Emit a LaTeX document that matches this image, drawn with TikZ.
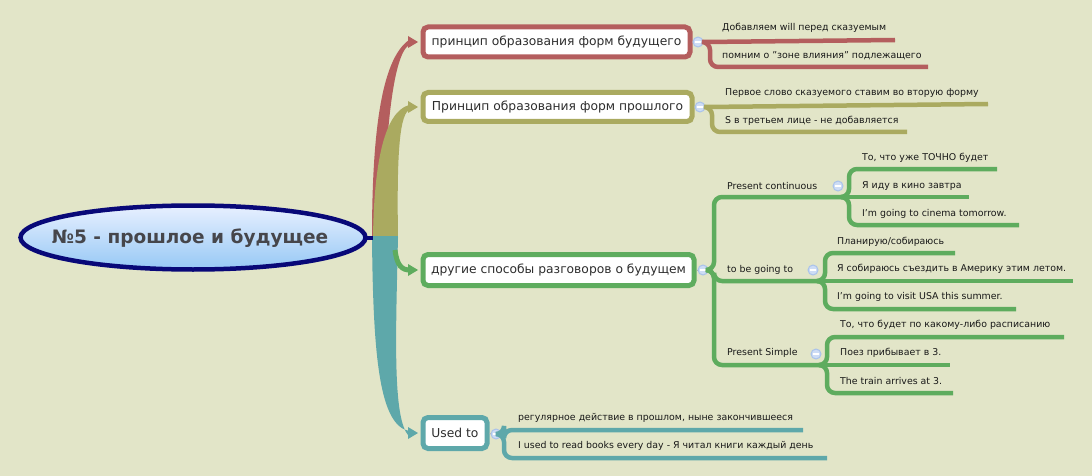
\documentclass[tikz,border=0pt]{standalone}
\usepackage{fontspec}
\setmainfont{DejaVu Sans}
\usetikzlibrary{shapes.geometric,calc}
\definecolor{bg}{RGB}{226,229,200}
\definecolor{cred}{RGB}{180,94,94}
\definecolor{colive}{RGB}{170,170,96}
\definecolor{cgreen}{RGB}{94,172,94}
\definecolor{cteal}{RGB}{94,168,170}
\definecolor{navy}{RGB}{8,8,120}
\definecolor{btnfill}{RGB}{205,220,245}
\definecolor{btnrim}{RGB}{170,195,235}
\definecolor{boxtext}{RGB}{45,45,45}
\definecolor{leaftext}{RGB}{25,25,25}
\definecolor{roottext}{RGB}{70,70,75}
\definecolor{elltop}{RGB}{232,240,255}
\definecolor{ellbot}{RGB}{150,200,245}
\tikzset{
  mainbox/.style={rectangle, rounded corners=5, draw=#1, line width=5, fill=white,
    font=\fontsize{12.3}{15}\selectfont, text=boxtext, inner xsep=6, anchor=west},
  leaf/.style={anchor=west, inner sep=0, font=\fontsize{9.4}{11}\selectfont, text=leaftext},
  sub/.style={anchor=west, inner sep=0, font=\fontsize{9.4}{11}\selectfont, text=leaftext},
  btn/.style={circle, minimum size=10, inner sep=0, fill=btnfill, draw=btnrim, line width=1,
    path picture={\draw[white, line width=1.2] ([xshift=-2.6]path picture bounding box.center) -- ([xshift=2.6]path picture bounding box.center);}},
  lline/.style={draw=#1, line width=4.5, rounded corners=8},
  stub/.style={draw=gray!60, line width=1}
}
\begin{document}
\begin{tikzpicture}[x=1pt,y=-1pt]
\useasboundingbox (0,0) rectangle (1092,476);
\fill[bg] (0,0) rectangle (1092,476);

% main boxes
\node[mainbox=cred, minimum width=267, minimum height=30] (b1) at (420.5,42) {принцип образования форм будущего};
\node[mainbox=colive, minimum width=269, minimum height=29] (b2) at (420.5,107) {Принцип образования форм прошлого};
\node[mainbox=cgreen, minimum width=271, minimum height=31] (b3) at (420.5,270) {другие способы разговоров о будущем};
\node[mainbox=cteal, minimum width=64, minimum height=31] (b4) at (420.5,433) {Used to};

\coordinate (trunk) at (373,238);
% branches
\fill[cred] (372,238) .. controls (372,140) and (380,60) .. (409,40) -- (409,45) .. controls (392,56) and (385,140) .. (383,238) -- cycle;
\fill[cred] ([xshift=-2.5]b1.west) -- ++(-10,-6) -- ++(0,12) -- cycle;
\fill[colive] (373,238) .. controls (374,160) and (385,112) .. (409,105) -- (409,110) .. controls (398,116) and (397,170) .. (398,238) -- cycle;
\fill[colive] ([xshift=-2.5]b2.west) -- ++(-10,-6) -- ++(0,12) -- cycle;
\fill[cteal] (372,236) .. controls (373,360) and (380,425) .. (409,431) -- (409,436) .. controls (392,420) and (396,330) .. (398,236) -- cycle;
\fill[cteal] ([xshift=-2.5]b4.west) -- ++(-10,-6) -- ++(0,12) -- cycle;
\draw[cgreen, line width=5] (395,250) .. controls (397,266) and (402,270) .. (410,270);
\fill[cgreen] ([xshift=-2.5]b3.west) -- ++(-10,-6) -- ++(0,12) -- cycle;

% root
\shade[top color=elltop, bottom color=ellbot] (193,237.5) ellipse [x radius=172.5, y radius=32];
\draw[navy, line width=4.5] (193,237.5) ellipse [x radius=172.5, y radius=32];
\node[text=roottext, font=\bfseries\fontsize{18.5}{22}\selectfont, inner sep=0] (root) at (190,238) {№5 - прошлое и будущее};
\coordinate (rootE) at (367,238);
\draw[navy, line width=4] (rootE) -- (trunk);

% buttons
\node[btn] (t1) at (698,42) {};
\node[btn] (t2) at (700,107) {};
\node[btn] (t3) at (703,270) {};
\node[btn] (t4) at (496,434) {};

% red leaves
\coordinate (r1e) at (895,40);
\coordinate (r2e) at (928,67);
\draw[lline=cred] (t1.east) -- (r1e);
\draw[lline=cred] (t1.east) -| (710,67) -- (r2e);
\node[leaf] (r1) at (722,28) {Добавляем will перед сказуемым};
\node[leaf] (r2) at (722,56) {помним о "зоне влияния" подлежащего};

% olive leaves
\coordinate (o1e) at (988,104);
\coordinate (o2e) at (907,132);
\draw[lline=colive] (t2.east) -- (o1e);
\draw[lline=colive] (t2.east) -| (712,132) -- (o2e);
\node[leaf] (o1) at (725,93) {Первое слово сказуемого ставим во вторую форму};
\node[leaf] (o2) at (725,121) {S в третьем лице - не добавляется};

% green level 1
\coordinate (pcj) at (847,197);
\coordinate (tgj) at (823,281);
\coordinate (psj) at (825,365);
\draw[lline=cgreen] (t3.east) -| (714,197) -- (pcj);
\draw[lline=cgreen] (t3.east) -| (714,281) -- (tgj);
\draw[lline=cgreen] (t3.east) -| (714,365) -- (psj);
\node[sub] (pc) at (727,186) {Present continuous};
\node[sub] (tg) at (727,270) {to be going to};
\node[sub] (ps) at (727,353) {Present Simple};

% Present continuous children
\coordinate (pc1e) at (997,169);
\coordinate (pc2e) at (969,197);
\coordinate (pc3e) at (1019,225);
\draw[lline=cgreen] (pcj) -| (849,169) -- (pc1e);
\draw[lline=cgreen] (pcj) -- (pc2e);
\draw[lline=cgreen] (pcj) -| (849,225) -- (pc3e);
\node[leaf] (pc1) at (862,158) {То, что уже ТОЧНО будет};
\node[leaf] (pc2) at (862,186) {Я иду в кино завтра};
\node[leaf] (pc3) at (862,214) {I'm going to cinema tomorrow.};

% to be going to children
\coordinate (tg1e) at (955,253);
\coordinate (tg2e) at (1073,281);
\coordinate (tg3e) at (1016,309);
\draw[lline=cgreen] (tgj) -| (825,253) -- (tg1e);
\draw[lline=cgreen] (tgj) -- (tg2e);
\draw[lline=cgreen] (tgj) -| (825,309) -- (tg3e);
\node[leaf] (tg1) at (837,242) {Планирую/собираюсь};
\node[leaf] (tg2) at (837,269) {Я собираюсь съездить в Америку этим летом.};
\node[leaf] (tg3) at (837,297) {I'm going to visit USA this summer.};

% Present Simple children
\coordinate (ps1e) at (1064,337);
\coordinate (ps2e) at (950,365);
\coordinate (ps3e) at (953,393);
\draw[lline=cgreen] (psj) -| (827,337) -- (ps1e);
\draw[lline=cgreen] (psj) -- (ps2e);
\draw[lline=cgreen] (psj) -| (827,393) -- (ps3e);
\node[leaf] (ps1) at (840,325) {То, что будет по какому-либо расписанию};
\node[leaf] (ps2) at (840,353) {Поез прибывает в 3.};
\node[leaf] (ps3) at (840,381) {The train arrives at 3.};

% teal leaves
\coordinate (u1e) at (803,430);
\coordinate (u2e) at (827,458);
\draw[lline=cteal] (t4.east) -| (504,430) -- (u1e);
\draw[lline=cteal] (t4.east) -| (504,458) -- (u2e);
\node[leaf] (u1) at (518,418) {регулярное действие в прошлом, ныне закончившееся};
\node[leaf] (u2) at (518,446) {I used to read books every day - Я читал книги каждый день};

% level-2 buttons
\node[btn] (t5) at (838,186) {};
\node[btn] (t6) at (813,270) {};
\node[btn] (t7) at (816,354) {};
% small stubs box->button
\draw[stub] (b1.east) -- (t1.west);
\draw[stub] (b2.east) -- (t2.west);
\draw[stub] (b3.east) -- (t3.west);
\draw[stub] (b4.east) -- (t4.west);
\end{tikzpicture}
\end{document}
